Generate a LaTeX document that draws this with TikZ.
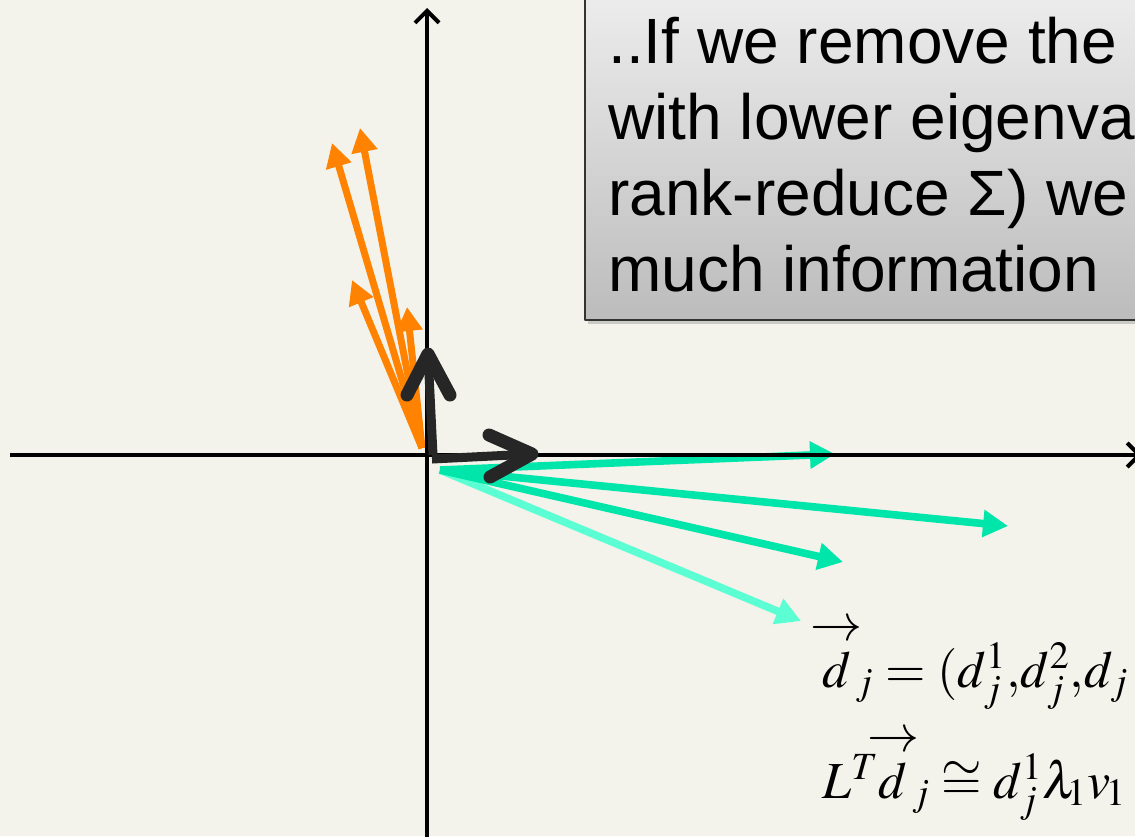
\documentclass[tikz,border=0pt]{standalone}
\usepackage{amsmath}
\usepackage{mathptmx}
\usepackage[no-math]{fontspec}
\setsansfont{Liberation Sans}
\usetikzlibrary{arrows.meta,shadows}

\definecolor{paper}{RGB}{243,242,235}
\definecolor{vorange}{RGB}{255,130,0}
\definecolor{vgreen}{RGB}{0,230,170}
\definecolor{vlight}{RGB}{92,255,212}
\definecolor{vdark}{RGB}{38,38,38}
\definecolor{boxtop}{RGB}{240,240,240}
\definecolor{boxbot}{RGB}{188,188,188}

\newcommand{\dvec}{\overset{\makebox[0pt]{$\textstyle\rightarrow$}}{d}}

\tikzset{
  axis/.style={line width=2pt,line cap=butt,-{Straight Barb[length=6pt,width=12pt]}},
  orangevec/.style={vorange,line width=3.5pt,line cap=butt,-{Triangle[length=12pt,width=12.5pt]}},
  greenvec/.style={vgreen,line width=3.8pt,line cap=butt,-{Triangle[length=12.5pt,width=13pt]}},
  basisvec/.style={vdark,line width=6.5pt},
  notebox/.style={draw=black!80,line width=1pt,top color=boxtop,bottom color=boxbot,
    drop shadow={opacity=0.35,shadow xshift=1.5pt,shadow yshift=-2pt}},
  noteline/.style={anchor=base west,inner sep=0pt,font=\sffamily\fontsize{32}{38}\selectfont},
  formula/.style={anchor=base west,inner sep=0pt,font=\fontsize{26}{32}\selectfont}
}

\begin{document}
\begin{tikzpicture}[x={(0.5pt,0pt)},y={(0pt,-0.5pt)},>=Stealth,line join=round,line cap=round]
  \useasboundingbox (0,0) rectangle (1135,836);
  \clip (0,0) rectangle (1135,836);
  \fill[paper] (0,0) rectangle (1135,836);

  % origin and vector tips
  \coordinate (O) at (427,455);
  \coordinate (otail) at (422,448);
  \coordinate (gtail) at (440,470);
  \coordinate (o1) at (332,143);
  \coordinate (o2) at (360,128);
  \coordinate (o3) at (352,280);
  \coordinate (o4) at (407,307);
  \coordinate (g1) at (835,454);
  \coordinate (g2) at (1008,526);
  \coordinate (g3) at (843,562);
  \coordinate (g4) at (801,621);

  % data vectors
  \draw[orangevec] (otail) -- (o1);
  \draw[orangevec] (otail) -- (o2);
  \draw[orangevec] (otail) -- (o3);
  \draw[orangevec] (otail) -- (o4);
  \draw[greenvec,vlight] (gtail) -- (g4);
  \draw[greenvec] (gtail) -- (g3);
  \draw[greenvec] (gtail) -- (g2);
  \draw[greenvec] (gtail) -- (g1);

  % axes
  \coordinate (xstart) at (10,455);
  \coordinate (xend) at (1142,455);
  \coordinate (ystart) at (427,840);
  \coordinate (yend) at (427,8);
  \draw[axis] (xstart) -- (xend);
  \draw[axis] (ystart) -- (yend);

  % eigenvectors
  \coordinate (e1) at (532,454);
  \coordinate (e2) at (428,354);
  \draw[basisvec,line width=4.5pt,line cap=butt] (432,459) -- (e1);
  \draw[basisvec] (489,435) -- (e1) -- (490,477);
  \draw[basisvec,line width=4.5pt,line cap=butt] (433,455) -- (e2);
  \draw[basisvec] (407,395) -- (e2) -- (450,395);

  % note box
  \draw[notebox] (585,-30) rectangle (1170,320);
  \foreach \t [count=\i] in {..If we remove the e, with lower eigenva, {rank-reduce Σ) we}, much information}
    \node[noteline] (line\i) at (608,-13+76*\i) {\t};

  % formulas
  \node[formula] (dj) at (822,687) {$\dvec_{\,j}\;{=}\;(d_j^1{,}d_j^2{,}d_j$};
  \node[formula] (proj) at (822,798) {$L^{T}\dvec_{\,j}\cong d_j^1\lambda_{\!1}v_{\!1}$};
\end{tikzpicture}
\end{document}
